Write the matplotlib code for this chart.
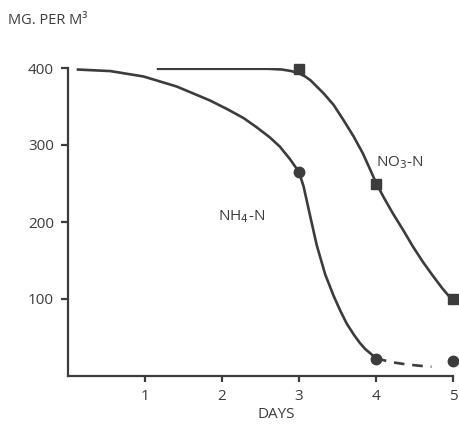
import numpy as np
import matplotlib.pyplot as plt

plt.rcParams['font.family'] = ['Open Sans', 'DejaVu Sans']

ink = '#3c3c3c'

# measured points
no3_days = [3, 4, 5]
no3_vals = [399, 250, 100]
nh4_days = [3, 4, 5]
nh4_vals = [265, 22, 20]

# hand drawn curves
no3_curve_x = [1.17, 2.0, 2.6, 2.78, 2.9, 3.0, 3.08, 3.15, 3.22, 3.32, 3.45, 3.58, 3.71, 3.83,
               3.92, 4.0, 4.1, 4.22, 4.35, 4.48, 4.61, 4.74, 4.86, 4.97]
no3_curve_y = [399, 399, 399, 398, 396, 393, 389, 384, 377, 367, 352, 332, 311, 289,
               269, 251, 232, 211, 190, 168, 148, 130, 114, 101]

nh4_curve_x = [0.13, 0.55, 0.98, 1.41, 1.84, 2.06, 2.28, 2.45, 2.62, 2.75, 2.88, 3.00, 3.06,
               3.14, 3.23, 3.34, 3.45, 3.54, 3.62, 3.71, 3.79, 3.86, 3.92, 4.0]
nh4_curve_y = [398, 396, 389, 376, 358, 347, 335, 323, 310, 298, 282, 265, 246,
               210, 170, 132, 104, 84, 68, 54, 43, 35, 30, 23]

nh4_dash_x = [4.0, 4.2, 4.4, 4.6, 4.72]
nh4_dash_y = [23, 18, 15, 13, 12]

fig = plt.figure(figsize=(4.6, 4.28), dpi=100)
ax = fig.add_axes([68/460, 1-376/428, (453-68)/460, (376-68)/428])

ax.plot(no3_curve_x, no3_curve_y, color=ink, lw=1.9, solid_joinstyle='round')
ax.plot(nh4_curve_x, nh4_curve_y, color=ink, lw=1.9, solid_joinstyle='round')
ax.plot(nh4_dash_x, nh4_dash_y, color=ink, lw=1.9, dashes=(4, 3))
ax.plot(no3_days, no3_vals, 's', color=ink, ms=7.5, clip_on=False)
ax.plot(nh4_days, nh4_vals, 'o', color=ink, ms=7.5, clip_on=False)

ax.set_xlim(0, 5)
ax.set_ylim(0, 400)
ax.set_xticks([1, 2, 3, 4, 5])
ax.set_yticks([100, 200, 300, 400])
for s in ['top', 'right']:
    ax.spines[s].set_visible(False)
for s in ['left', 'bottom']:
    ax.spines[s].set_linewidth(1.6)
    ax.spines[s].set_color(ink)
ax.tick_params(axis='both', colors=ink, labelsize=11, width=1.6)
ax.tick_params(axis='y', length=5, pad=5)
ax.tick_params(axis='x', length=4, pad=5)

ax.text(1.95, 202, 'NH$_4$-N', color=ink, fontsize=11)
ax.text(4.0, 272, 'NO$_3$-N', color=ink, fontsize=11)
fig.text(8/460, 1-24/428, 'MG. PER M³', color=ink, fontsize=10.5)
fig.text(258/460, 1-418/428, 'DAYS', color=ink, fontsize=11)

plt.savefig('out.png')
